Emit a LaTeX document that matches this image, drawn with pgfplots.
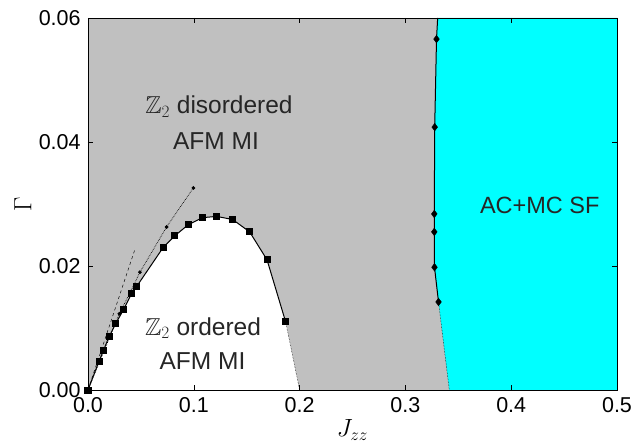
\documentclass[border=0pt]{standalone}
\usepackage{fontspec}
\setmainfont{Liberation Sans}
\usepackage{amssymb}
\usepackage{pgfplots}
\pgfplotsset{compat=1.18}
\definecolor{bggray}{RGB}{192,192,192}
\definecolor{aqua}{RGB}{0,255,255}
\begin{document}
\fontsize{21.5}{26}\selectfont
\begin{tikzpicture}
\useasboundingbox (-88pt,-57pt) rectangle (554pt,390pt);
\begin{axis}[at={(0,0)}, anchor=south west, scale only axis,
  width=529pt, height=372pt,
  xmin=0, xmax=0.5, ymin=0, ymax=0.06,
  xtick={0,0.1,0.2,0.3,0.4,0.5}, ytick={0,0.02,0.04,0.06},
  scaled x ticks=false, scaled y ticks=false,
  xticklabel style={/pgf/number format/fixed, /pgf/number format/fixed zerofill, /pgf/number format/precision=1},
  yticklabel style={/pgf/number format/fixed, /pgf/number format/fixed zerofill, /pgf/number format/precision=2},
  /pgf/number format/assume math mode=true,
  tick align=inside, major tick length=5pt,
  tick style={black, line width=0.6pt},
  axis line style={line width=0.8pt},
  axis background/.style={fill=bggray},
  axis on top,
  xlabel={$J_{zz}$}, ylabel={$\Gamma$},
  xlabel style={at={(axis description cs:0.5,-0.1075)}, anchor=center, font=\fontsize{24}{28}\selectfont},
  ylabel style={at={(axis description cs:-0.1229,0.5)}, anchor=center, font=\fontsize{24}{28}\selectfont},
]
% white region (ordered)
\addplot[fill=white, draw=none] coordinates {
 (0,0) (0.0104,0.00463) (0.0148,0.00645) (0.0199,0.0086) (0.0262,0.0107) (0.0337,0.0130)
 (0.0413,0.0156) (0.046,0.0167) (0.0709,0.02295) (0.0822,0.0249) (0.0951,0.0267)
 (0.1084,0.0278) (0.1216,0.0280) (0.1367,0.0275) (0.1528,0.0255) (0.1692,0.0210)
 (0.1868,0.0110) (0.2,0)} -- cycle;
% cyan region
\addplot[fill=aqua, draw=none] coordinates {
 (0.3305,0.06) (0.3294,0.0566) (0.3277,0.0424) (0.3273,0.0284) (0.3273,0.0255)
 (0.3275,0.0198) (0.3313,0.0142) (0.3415,0) (0.5,0) (0.5,0.06)} -- cycle;
% dashed line
\addplot[black, dashed, line width=0.5pt] coordinates {(0,0) (0.0444,0.0227)};
% dotted with dots
\addplot[black, densely dotted, line width=0.7pt, mark=*, mark size=1.5pt, mark options={solid}] coordinates {
 (0,0) (0.0296,0.0123) (0.0397,0.0157) (0.0491,0.0190) (0.0743,0.0263) (0.0996,0.0326)};
% dotted continuations
\addplot[black, densely dotted, line width=0.5pt] coordinates {(0.1868,0.0110) (0.2,0)};
\addplot[black, densely dotted, line width=0.5pt] coordinates {(0.3313,0.0142) (0.3415,0)};
% squares
\addplot[black, line width=1pt, mark=square*, mark size=3pt] coordinates {
 (0,0) (0.0104,0.00463) (0.0148,0.00645) (0.0199,0.0086) (0.0262,0.0107) (0.0337,0.0130)
 (0.0413,0.0156) (0.046,0.0167) (0.0709,0.02295) (0.0822,0.0249) (0.0951,0.0267)
 (0.1084,0.0278) (0.1216,0.0280) (0.1367,0.0275) (0.1528,0.0255) (0.1692,0.0210)
 (0.1868,0.0110)};
% boundary line
\addplot[black, line width=1pt] coordinates {
 (0.3305,0.06) (0.3294,0.0566) (0.3277,0.0424) (0.3273,0.0284) (0.3273,0.0255)
 (0.3275,0.0198) (0.3313,0.0142)};
\addplot[black, only marks, mark=diamond*, mark size=3.8pt] coordinates {
 (0.3294,0.0566) (0.3277,0.0424) (0.3273,0.0284) (0.3273,0.0255)
 (0.3275,0.0198) (0.3313,0.0142)};
% labels
\node[font=\fontsize{24.5}{28}\selectfont, text=black!85] at (axis cs:0.1238,0.0457) {$\mathbb{Z}_2$ disordered};
\node[font=\fontsize{24.5}{28}\selectfont, text=black!85] at (axis cs:0.121,0.0402) {AFM MI};
\node[font=\fontsize{24.5}{28}\selectfont, text=black!85] at (axis cs:0.1087,0.0100) {$\mathbb{Z}_2$ ordered};
\node[font=\fontsize{24.5}{28}\selectfont, text=black!85] at (axis cs:0.1082,0.0046) {AFM MI};
\node[font=\fontsize{23.5}{27}\selectfont, text=black!85] at (axis cs:0.427,0.0298) {AC+MC SF};
\end{axis}
\end{tikzpicture}
\end{document}
